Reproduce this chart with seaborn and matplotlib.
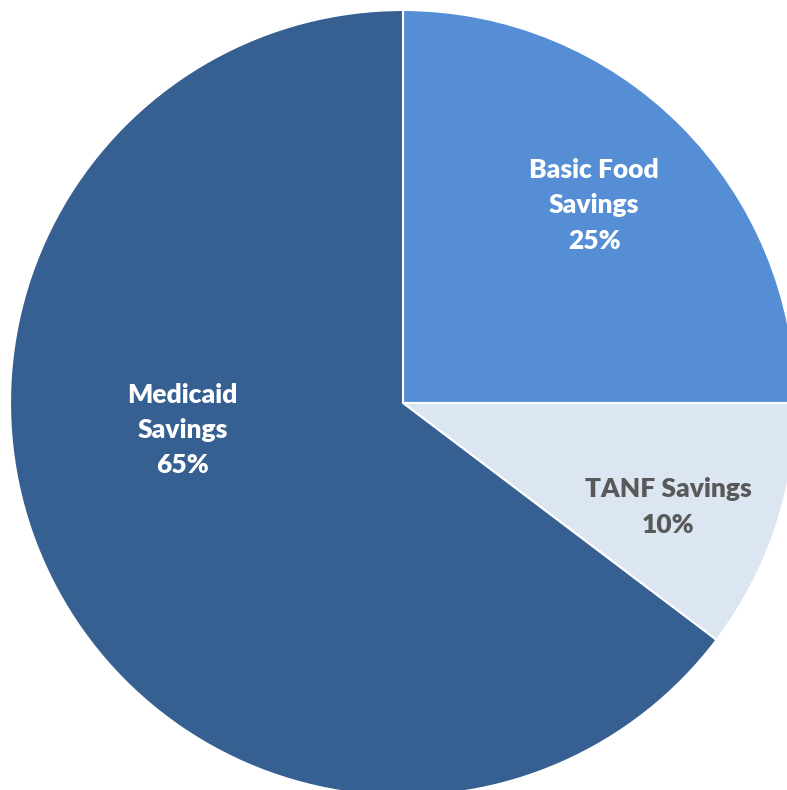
import matplotlib
matplotlib.use("Agg")
import matplotlib.pyplot as plt
import seaborn as sns
import numpy as np

sns.set_theme(style="white")
plt.rcParams['font.family'] = ['Lato', 'DejaVu Sans']

categories = ["Basic Food\nSavings", "TANF Savings", "Medicaid\nSavings"]
values = [25.0, 10.3, 64.7]
colors = ["#558ED5", "#DCE6F2", "#376092"]
text_colors = ["white", "#595959", "white"]
# label placement (fraction of radius, angle in degrees)
label_pos = [(0.70, 46), (0.725, -21.4), (0.565, 187)]

fig = plt.figure(figsize=(7.87, 7.90), dpi=100)
ax = fig.add_axes([0, 0, 1, 1])
wedges, _ = ax.pie(values, colors=colors, startangle=90, counterclock=False,
                   radius=1.0, wedgeprops=dict(edgecolor="white", linewidth=1.5))
R = 393.0
ax.set_xlim(-403 / R, (787 - 403) / R)
ax.set_ylim(-(790 - 403) / R, 403 / R)
ax.set_aspect('auto')
ax.axis('off')

for cat, val, tc, (d, a) in zip(categories, values, text_colors, label_pos):
    x = d * np.cos(np.radians(a))
    y = d * np.sin(np.radians(a))
    ax.text(x, y, f"{cat}\n{val:.0f}%", ha="center", va="center", color=tc,
            fontsize=19, fontweight="heavy", linespacing=1.57)

fig.savefig("out.png", dpi=100)
